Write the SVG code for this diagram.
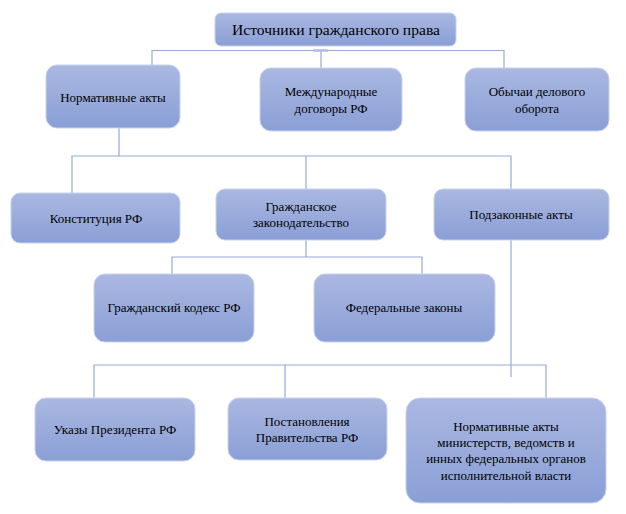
<svg xmlns="http://www.w3.org/2000/svg" width="626" height="514" viewBox="0 0 626 514">
<defs>
<linearGradient id="g" x1="0" y1="0" x2="0" y2="1">
<stop offset="0" stop-color="#aab8e1"/>
<stop offset="1" stop-color="#8a9fd6"/>
</linearGradient>
<style>
.box{fill:url(#g);stroke:#c9d3ee;stroke-width:1}
.t{font-family:"Liberation Serif","Times New Roman",serif;font-size:13px;fill:#000;text-anchor:middle}
.tt{font-size:15.6px}
.ln{fill:none;stroke:#97aadc;stroke-width:1.2}
</style>
</defs>
<rect width="626" height="514" fill="#fff"/>
<g id="connectors">
<path class="ln" d="M152,65 V50.5 H504 V68 M321,50.5 V68"/>
<path d="M313,50.5 H328" stroke="#aebde6" stroke-width="2.5"/>
<path class="ln" d="M119,122 V156 M72,196 V156 H511 V197 M306,156 V197"/>
<path class="ln" d="M306,238 V257 M172,277 V257 H422 V277"/>
<path class="ln" d="M511,236 V377"/>
<path class="ln" d="M94,401 V365 H546 V402 M285,365 V401"/>
</g>
<g id="n-title"><rect class="box" x="215" y="13" width="241" height="33" rx="6"/><text class="t tt" x="336" y="35">Источники гражданского права</text></g>
<g id="n-normative"><rect class="box" x="46" y="65" width="134" height="63" rx="11"/><text class="t" x="113" y="102">Нормативные акты</text></g>
<g id="n-international"><rect class="box" x="260" y="68" width="142" height="63" rx="11"/><text class="t" x="331" y="96">Международные</text><text class="t" x="331" y="113">договоры РФ</text></g>
<g id="n-customs"><rect class="box" x="465" y="68" width="144" height="63" rx="11"/><text class="t" x="537" y="96">Обычаи делового</text><text class="t" x="537" y="113">оборота</text></g>
<g id="n-constitution"><rect class="box" x="11" y="193" width="169" height="50" rx="9"/><text class="t" x="96" y="223">Конституция РФ</text></g>
<g id="n-civil-leg"><rect class="box" x="216" y="189" width="170" height="51" rx="9"/><text class="t" x="301" y="211">Гражданское</text><text class="t" x="301" y="227">законодательство</text></g>
<g id="n-bylaws"><rect class="box" x="434" y="189" width="175" height="51" rx="9"/><text class="t" x="521" y="219">Подзаконные акты</text></g>
<g id="n-civil-code"><rect class="box" x="94" y="274" width="160" height="68" rx="11"/><text class="t" x="174" y="312">Гражданский кодекс РФ</text></g>
<g id="n-federal"><rect class="box" x="314" y="274" width="181" height="68" rx="11"/><text class="t" x="404" y="312">Федеральные законы</text></g>
<g id="n-decrees"><rect class="box" x="35" y="398" width="160" height="63" rx="11"/><text class="t" x="115" y="434">Указы Президента РФ</text></g>
<g id="n-resolutions"><rect class="box" x="228" y="398" width="159" height="62" rx="11"/><text class="t" x="307" y="426">Постановления</text><text class="t" x="307" y="442">Правительства РФ</text></g>
<g id="n-ministries"><rect class="box" x="406" y="398" width="200" height="105" rx="14"/><text class="t" x="506" y="431">Нормативные акты</text><text class="t" x="506" y="447">министерств, ведомств и</text><text class="t" x="506" y="463">инных федеральных органов</text><text class="t" x="506" y="480">исполнительной власти</text></g>
</svg>
